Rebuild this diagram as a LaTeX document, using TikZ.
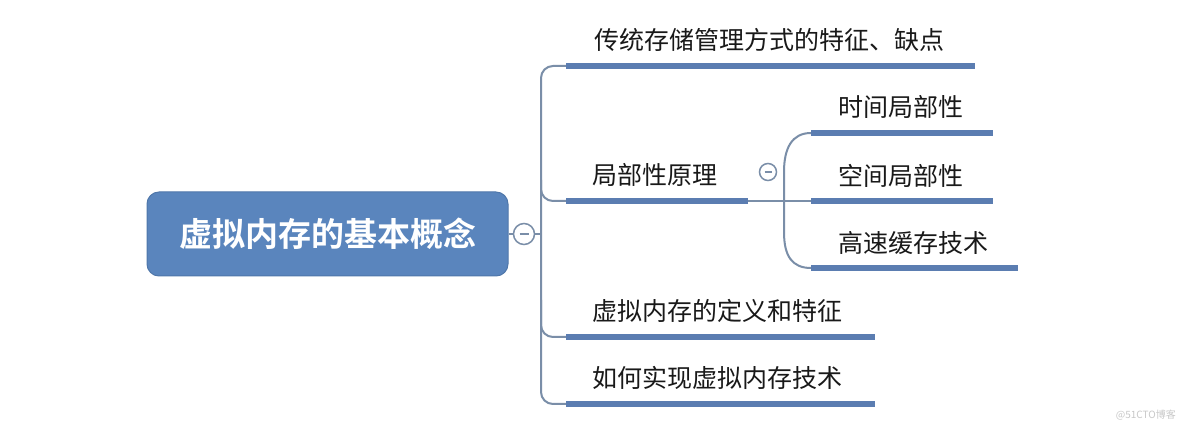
\documentclass[tikz,border=0pt]{standalone}
\usepackage{fontspec}
\newfontfamily\cjk{Noto Sans CJK SC}[BoldFont={* Bold}]
\definecolor{rootblue}{HTML}{5A85BD}
\definecolor{rootedge}{HTML}{4F77AA}
\definecolor{barblue}{HTML}{5B7DB1}
\definecolor{linegray}{HTML}{7A8EA8}
\definecolor{wmgray}{HTML}{C8C8C8}
\tikzset{
  rootbox/.style={draw=rootedge, line width=1pt, fill=rootblue, rounded corners=12pt, minimum width=361pt, minimum height=84pt, inner sep=0pt, text=white, font=\cjk\bfseries\fontsize{33}{38}\selectfont},
  topic/.style={anchor=west, inner sep=0pt, font=\cjk\fontsize{25}{30}\selectfont, text=black!90},
  bar/.style={line width=6pt, draw=barblue},
  conn/.style={line width=2pt, draw=linegray, rounded corners=12pt},
  fold/.style={circle, draw=linegray, line width=1.5pt, fill=white, minimum size=18pt, inner sep=0pt},
}
\begin{document}
\begin{tikzpicture}[x=1pt, y=-1pt]
\useasboundingbox (0,0) rectangle (1184,427);
\fill[white] (0,0) rectangle (1184,427);

% root
\node[rootbox] (root) at (327.5,234) {虚拟内存的基本概念};
\node[fold, minimum size=21pt] (f1) at (524,234) {};
\draw[linegray, line width=1.8pt] ([xshift=-4.5pt]f1.center) -- ([xshift=4.5pt]f1.center);
\draw[line width=1.5pt, linegray] (root.east) -- (f1.west);

% bar end coordinates
\coordinate (b1s) at (566,66);  \coordinate (b1e) at (975,66);
\coordinate (b2s) at (566,201); \coordinate (b2e) at (748,201);
\coordinate (b3s) at (566,337); \coordinate (b3e) at (875,337);
\coordinate (b4s) at (566,404); \coordinate (b4e) at (875,404);
\coordinate (s1s) at (811,133); \coordinate (s1e) at (993,133);
\coordinate (s2s) at (811,201); \coordinate (s2e) at (993,201);
\coordinate (s3s) at (811,268); \coordinate (s3e) at (1018,268);

% trunk
\draw[conn] (b1s) -| (541,234) |- (b4s);
\draw[conn] (541,180) |- (b2s);
\draw[conn] (541,300) |- (b3s);
\draw[line width=2pt, linegray] (f1.east) -- (541,234);

% main bars
\draw[bar] (b1s) -- (b1e);
\draw[bar] (b2s) -- (b2e);
\draw[bar] (b3s) -- (b3e);
\draw[bar] (b4s) -- (b4e);

% topic texts
\node[topic] (t1) at (594,40) {传统存储管理方式的特征、缺点};
\node[topic] (t2) at (592,175) {局部性原理};
\node[topic] (t3) at (592,311) {虚拟内存的定义和特征};
\node[topic] (t4) at (592,378) {如何实现虚拟内存技术};

% sub-branch
\node[fold, minimum size=17pt] (f2) at (768,172) {};
\draw[linegray, line width=1.4pt] ([xshift=-3.5pt]f2.center) -- ([xshift=3.5pt]f2.center);
\draw[line width=2pt, linegray] (b2e) -- (s2s);
\draw[line width=2pt, linegray] (s1s) .. controls (792,133) and (784,148) .. (784,172) -- (784,232) .. controls (784,256) and (792,268) .. (s3s);

\draw[bar] (s1s) -- (s1e);
\draw[bar] (s2s) -- (s2e);
\draw[bar] (s3s) -- (s3e);

\node[topic] (u1) at (838,107) {时间局部性};
\node[topic] (u2) at (838,176) {空间局部性};
\node[topic] (u3) at (838,243) {高速缓存技术};

% watermark
\node[anchor=east, inner sep=0pt, text=wmgray, font=\cjk\fontsize{10}{12}\selectfont] (wm) at (1176,415) {@51CTO博客};
\end{tikzpicture}
\end{document}
